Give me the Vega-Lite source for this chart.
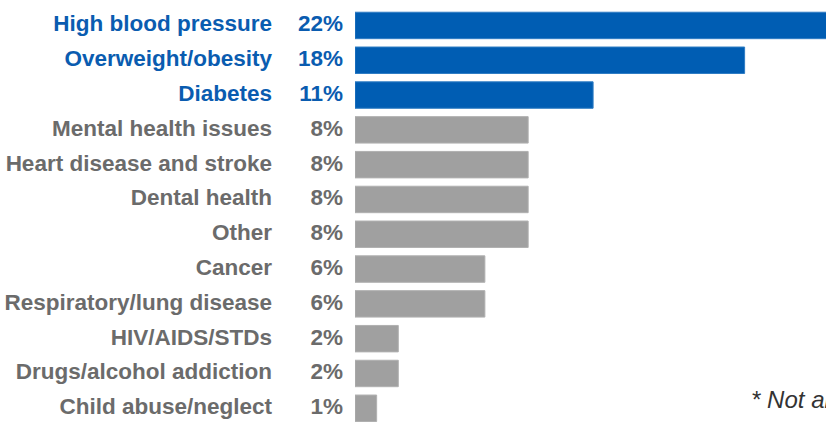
{
  "$schema": "https://vega.github.io/schema/vega-lite/v6.json",
  "width": 471,
  "height": 422,
  "autosize": {"type": "none"},
  "padding": {"left": 355, "top": 0, "right": 0, "bottom": 0},
  "background": "white",
  "config": {"view": {"stroke": null}},
  "data": {
    "values": [
      {"condition": "High blood pressure", "pct": 22, "label": "22%", "group": "top"},
      {"condition": "Overweight/obesity", "pct": 18, "label": "18%", "group": "top"},
      {"condition": "Diabetes", "pct": 11, "label": "11%", "group": "top"},
      {"condition": "Mental health issues", "pct": 8, "label": "8%", "group": "rest"},
      {"condition": "Heart disease and stroke", "pct": 8, "label": "8%", "group": "rest"},
      {"condition": "Dental health", "pct": 8, "label": "8%", "group": "rest"},
      {"condition": "Other", "pct": 8, "label": "8%", "group": "rest"},
      {"condition": "Cancer", "pct": 6, "label": "6%", "group": "rest"},
      {"condition": "Respiratory/lung disease", "pct": 6, "label": "6%", "group": "rest"},
      {"condition": "HIV/AIDS/STDs", "pct": 2, "label": "2%", "group": "rest"},
      {"condition": "Drugs/alcohol addiction", "pct": 2, "label": "2%", "group": "rest"},
      {"condition": "Child abuse/neglect", "pct": 1, "label": "1%", "group": "rest", "note": "* Not all"}
    ]
  },
  "encoding": {
    "y": {
      "field": "condition",
      "type": "nominal",
      "sort": null,
      "axis": null,
      "scale": {"paddingInner": 0.24, "paddingOuter": 0.183, "align": 0.96, "round": false}
    }
  },
  "layer": [
    {
      "mark": {"type": "bar", "clip": true, "strokeWidth": 1},
      "encoding": {
        "x": {"field": "pct", "type": "quantitative", "axis": null, "scale": {"domain": [0, 21.76], "nice": false, "zero": true}},
        "color": {"field": "group", "type": "nominal", "legend": null, "scale": {"domain": ["top", "rest"], "range": ["#005db3", "#a0a0a0"]}},
        "stroke": {"field": "group", "type": "nominal", "legend": null, "scale": {"domain": ["top", "rest"], "range": ["#2e7cc4", "#b0b0b0"]}}
      }
    },
    {
      "layer": [
        {
          "mark": {"type": "text", "align": "right", "baseline": "middle", "dx": -12, "dy": -1, "font": "Liberation Sans", "fontWeight": "bold", "fontSize": 22.5},
          "encoding": {
            "x": {"datum": 0, "type": "quantitative"},
            "text": {"field": "label"},
            "color": {"field": "group", "type": "nominal", "legend": null, "scale": {"domain": ["top", "rest"], "range": ["#0a5cb0", "#6b6b6b"]}}
          }
        },
        {
          "mark": {"type": "text", "align": "right", "baseline": "middle", "dx": -83, "dy": -1, "font": "Liberation Sans", "fontWeight": "bold", "fontSize": 22.5},
          "encoding": {
            "x": {"datum": 0, "type": "quantitative"},
            "text": {"field": "condition"},
            "color": {"field": "group", "type": "nominal", "legend": null, "scale": {"domain": ["top", "rest"], "range": ["#0a5cb0", "#6b6b6b"]}}
          }
        }
      ]
    },
    {
      "transform": [{"filter": "datum.note"}],
      "mark": {"type": "text", "align": "left", "baseline": "alphabetic", "dy": 0, "font": "Liberation Sans", "fontStyle": "italic", "fontSize": 24, "color": "#333333"},
      "encoding": {
        "x": {"datum": 18.3, "type": "quantitative"},
        "text": {"field": "note"}
      }
    }
  ],
  "resolve": {"scale": {"color": "independent"}}
}
